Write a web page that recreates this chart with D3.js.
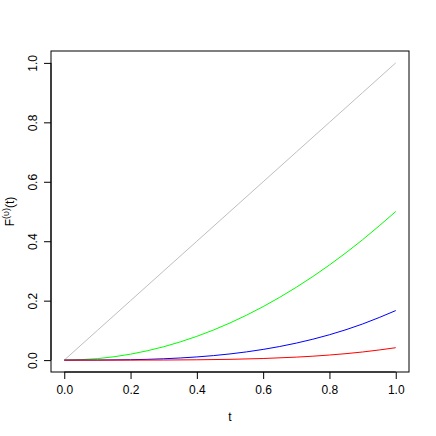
<!DOCTYPE html>
<html>
<head>
<meta charset="utf-8">
<script src="https://cdn.jsdelivr.net/npm/d3@7"></script>
<style>
  body { margin: 0; background: #fff; }
  text { font-family: "Liberation Sans", Arial, sans-serif; }
</style>
</head>
<body>
<div id="chart"></div>
<script>
// values at t = 0, 0.1, ..., 1
const tVals = [0, 0.1, 0.2, 0.3, 0.4, 0.5, 0.6, 0.7, 0.8, 0.9, 1.0];
const grayVals = [0, 0.1, 0.2, 0.3, 0.4, 0.5, 0.6, 0.7, 0.8, 0.9, 1.0];
const greenVals = [0, 0.005, 0.02, 0.045, 0.08, 0.125, 0.18, 0.245, 0.32, 0.405, 0.5];
const blueVals = [0, 0.0002, 0.0013, 0.0045, 0.0107, 0.0208, 0.036, 0.0572, 0.0853, 0.1215, 0.1667];
const redVals = [0, 0.0000, 0.0001, 0.0003, 0.0011, 0.0026, 0.0054, 0.01, 0.0171, 0.0273, 0.0417];
const xTicks = [0, 0.2, 0.4, 0.6, 0.8, 1.0];
const yTicks = [0, 0.2, 0.4, 0.6, 0.8, 1.0];

const width = 436, height = 436;
const box = { left: 51, right: 409, top: 51, bottom: 372 };

const svg = d3.select("#chart").append("svg")
  .attr("width", width)
  .attr("height", height);

// R style: 4% padding on each side of data range
const padX = (box.right - box.left) * 0.04 / 1.08;
const padY = (box.bottom - box.top) * 0.04 / 1.08;
const x = d3.scaleLinear().domain([0, 1]).range([box.left + padX, box.right - padX]);
const y = d3.scaleLinear().domain([0, 1]).range([box.bottom - padY, box.top + padY]);

// curves
const series = [
  { vals: grayVals, color: "#bebebe" },
  { vals: greenVals, color: "#00ff00" },
  { vals: blueVals, color: "#0000ff" },
  { vals: redVals, color: "#ff0000" }
];
const line = d3.line()
  .x((d, i) => x(tVals[i]))
  .y(d => y(d))
  .curve(d3.curveMonotoneX);

svg.selectAll("path.curve").data(series)
  .enter().append("path")
  .attr("class", "curve")
  .attr("fill", "none")
  .attr("stroke", d => d.color)
  .attr("stroke-width", 1)
  .attr("d", d => line(d.vals));

// box
svg.append("rect")
  .attr("x", box.left).attr("y", box.top)
  .attr("width", box.right - box.left)
  .attr("height", box.bottom - box.top)
  .attr("fill", "none").attr("stroke", "#000").attr("stroke-width", 1);

// x axis
const xAxis = svg.append("g")
  .attr("transform", `translate(0,${box.bottom})`)
  .call(d3.axisBottom(x).tickValues(xTicks).tickSize(7).tickPadding(6)
    .tickFormat(d3.format(".1f")));
xAxis.select(".domain").attr("d", `M${x(0)},0H${x(1)}`);
xAxis.selectAll("text").attr("font-size", 12).attr("fill", "#000")
  .attr("font-family", "Liberation Sans, Arial, sans-serif");

// y axis
const yAxis = svg.append("g")
  .attr("transform", `translate(${box.left},0)`)
  .call(d3.axisLeft(y).tickValues(yTicks).tickSize(7).tickPadding(0)
    .tickFormat(d3.format(".1f")));
yAxis.select(".domain").attr("d", `M0,${y(0)}V${y(1)}`);
yAxis.selectAll("text")
  .attr("font-size", 12).attr("fill", "#000")
  .attr("font-family", "Liberation Sans, Arial, sans-serif")
  .attr("x", null).attr("dy", null)
  .attr("text-anchor", "middle")
  .attr("transform", "translate(-14,0) rotate(-90)");

// axis titles
svg.append("text")
  .attr("x", (box.left + box.right) / 2)
  .attr("y", 421)
  .attr("text-anchor", "middle")
  .attr("font-size", 12)
  .text("t");

const yt = svg.append("text")
  .attr("transform", `translate(14,${(box.top + box.bottom) / 2}) rotate(-90)`)
  .attr("text-anchor", "middle")
  .attr("font-size", 12);
yt.append("tspan").text("F");
yt.append("tspan").attr("font-size", 9).attr("dy", -5).text("(υ)");
yt.append("tspan").attr("dy", 5).text("(t)");
</script>
</body>
</html>
